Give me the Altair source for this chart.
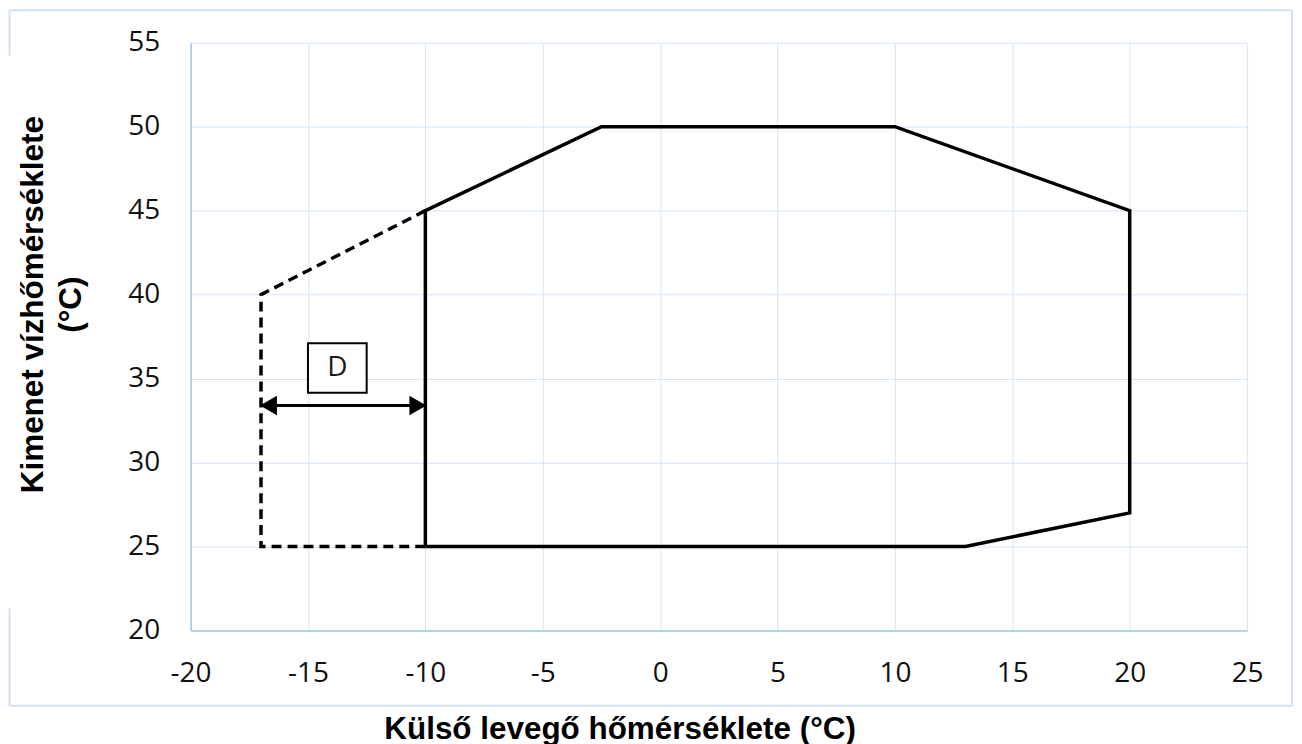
import altair as alt
import pandas as pd

# ---- data ----
x_ticks = [-20, -15, -10, -5, 0, 5, 10, 15, 20, 25]
y_ticks = [20, 25, 30, 35, 40, 45, 50, 55]

solid_x = [-10, -10, -2.5, 10, 20, 20, 13, -10]
solid_y = [25, 45, 50, 50, 45, 27, 25, 25]

dashed_x = [-10, -17, -17, -10]
dashed_y = [45, 40, 25, 25]

arrow_x = [-17, -10]
arrow_y = [33.4, 33.4]

box_x = [-15.0, -12.5]
box_y = [34.15, 37.1]
box_label = "D"

x_title = "Külső levegő hőmérséklete (°C)"
y_title = ["Kimenet vízhőmérséklete", "(°C)"]

# ---- tables ----
solid_df = pd.DataFrame({"x": solid_x, "y": solid_y, "i": list(range(len(solid_x)))})
dashed_df = pd.DataFrame({"x": dashed_x, "y": dashed_y, "i": list(range(len(dashed_x)))})
arrow_df = pd.DataFrame({"x": [arrow_x[0]], "x2": [arrow_x[1]], "y": [arrow_y[0]]})
left_head = pd.DataFrame({"x": [arrow_x[0]], "y": [arrow_y[0]]})
right_head = pd.DataFrame({"x": [arrow_x[1]], "y": [arrow_y[1]]})
box_df = pd.DataFrame({"x": [box_x[0]], "x2": [box_x[1]], "y": [box_y[0]], "y2": [box_y[1]],
                       "label": [box_label]})
box_txt_df = pd.DataFrame({"x": [(box_x[0] + box_x[1]) / 2], "y": [(box_y[0] + box_y[1]) / 2],
                           "label": [box_label]})
one = pd.DataFrame({"k": [0]})

xscale = alt.Scale(domain=[-20, 25], nice=False, zero=False)
yscale = alt.Scale(domain=[20, 55], nice=False, zero=False)

W, H = 1059, 589

minus_fix = "replace(datum.label, '\u2212', '-')"

x_axis = alt.Axis(values=x_ticks, title=x_title, labelPadding=51, labelBaseline="alphabetic",
                  labelFlush=False, labelOverlap=False, labelExpr=minus_fix,
                  titleX=430, titleY=108, titleBaseline="alphabetic", titleAlign="center")
y_axis = alt.Axis(values=y_ticks, title=y_title, labelPadding=31, labelFlush=False,
                  labelOverlap=False, labelExpr=minus_fix,
                  titleX=-148, titleY=262, titleAngle=270, titleBaseline="alphabetic",
                  titleAlign="center", titleLineHeight=38)


def X():
    return alt.X("x:Q", scale=xscale, axis=x_axis, title=x_title)


def Y():
    return alt.Y("y:Q", scale=yscale, axis=y_axis, title=y_title)


LW = 3.5

solid = alt.Chart(solid_df).mark_line(color="black", strokeWidth=LW, strokeJoin="miter").encode(
    x=X(), y=Y(), order="i:Q",
)

dashed = alt.Chart(dashed_df).mark_line(color="black", strokeWidth=LW, strokeDash=[10, 6]).encode(
    x=X(), y=Y(), order="i:Q",
)

arrow = alt.Chart(arrow_df).mark_rule(color="black", strokeWidth=3).encode(
    x=X(), x2="x2:Q", y=Y(),
)

lhead = alt.Chart(left_head).mark_point(shape="triangle-left", filled=True, color="black",
                                        opacity=1, size=380, xOffset=7.5).encode(x=X(), y=Y())
rhead = alt.Chart(right_head).mark_point(shape="triangle-right", filled=True, color="black",
                                         opacity=1, size=380, xOffset=-7.5).encode(x=X(), y=Y())

box = alt.Chart(box_df).mark_rect(fill="white", stroke="black", strokeWidth=2).encode(
    x=X(), x2="x2:Q", y=Y(), y2="y2:Q",
)
box_text = alt.Chart(box_txt_df).mark_text(font="Open Sans", fontSize=28, color="#1a1a1a").encode(
    x=X(), y=Y(), text="label:N",
)

# outer chart frame (light blue border, interrupted by the y title)
fc = "#d3e0f2"
fw = 2
L, T, R, B = -181.5, -32.5, 1104, 664.5
frame = [
    alt.Chart(one).mark_rule(color=fc, strokeWidth=fw).encode(x=alt.value(L), x2=alt.value(R), y=alt.value(T)),
    alt.Chart(one).mark_rule(color=fc, strokeWidth=fw).encode(x=alt.value(L), x2=alt.value(R), y=alt.value(B)),
    alt.Chart(one).mark_rule(color=fc, strokeWidth=fw).encode(x=alt.value(R), y=alt.value(T), y2=alt.value(B)),
    alt.Chart(one).mark_rule(color=fc, strokeWidth=fw).encode(x=alt.value(L), y=alt.value(T), y2=alt.value(13)),
    alt.Chart(one).mark_rule(color=fc, strokeWidth=fw).encode(x=alt.value(L), y=alt.value(567), y2=alt.value(B)),
]

chart = alt.layer(solid, dashed, arrow, lhead, rhead, box, box_text, *frame).properties(
    width=W, height=H,
    padding={"left": 183, "top": 34, "right": 47, "bottom": 115},
    autosize=alt.AutoSizeParams(type="none"),
    background="white",
).configure_view(stroke=None).configure_axis(
    grid=True, gridColor="#d6e3f5", gridWidth=1,
    domainColor="#a9c4e9", domainWidth=1.5,
    ticks=False, tickSize=0,
    labelFont="Open Sans", labelFontSize=28, labelColor="#111111",
    titleFont="Liberation Sans", titleFontWeight="bold", titleFontSize=31.5, titleColor="black",
)

chart.save("out.html", embed_options={"renderer": "svg", "actions": False})
